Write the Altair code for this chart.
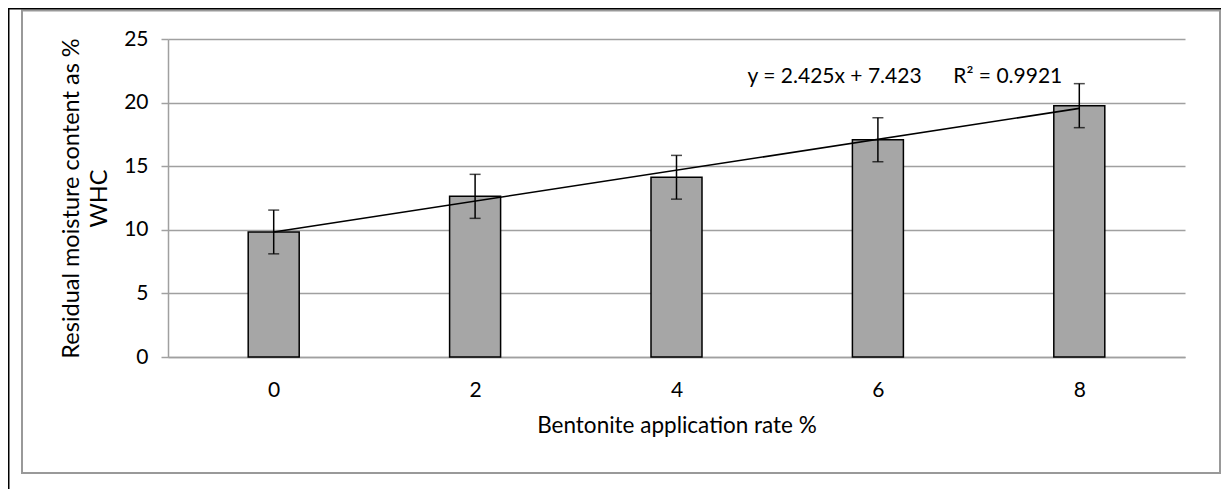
import altair as alt
import pandas as pd

# ---- data ----
rates = [0, 2, 4, 6, 8]
moisture = [9.83, 12.63, 14.13, 17.08, 19.76]
errors = [1.72, 1.73, 1.72, 1.73, 1.73]
x_ticks = [0, 2, 4, 6, 8]
y_ticks = [0, 5, 10, 15, 20, 25]
eq_labels = ["y = 2.425x + 7.423", "R² = 0.9921"]
eq_x = [5.57, 7.29]
eq_y = [22.0, 22.0]
y_title = ["Residual moisture content as %", "WHC"]
x_title = "Bentonite application rate %"

FONT = "Lato"
LFS = 21
TFS = 22
GRID = "#a0a0a0"

df = pd.DataFrame({"rate": rates, "value": moisture, "err": errors})
df["lo"] = df["value"] - df["err"]
df["hi"] = df["value"] + df["err"]
ann = pd.DataFrame({"x": eq_x, "y": eq_y, "t": eq_labels})

xscale = alt.Scale(domain=[-1, 9], nice=False, zero=False)
yscale = alt.Scale(domain=[0, 25], nice=False)

xax = alt.Axis(values=x_ticks, format="d", title=x_title, grid=False,
               ticks=False, domainColor=GRID, domainWidth=1.5,
               labelPadding=22, titlePadding=14, labelFlush=False,
               titleFontSize=TFS + 0.5)
yax = alt.Axis(values=y_ticks, format="d", title=y_title, grid=True,
               gridColor=GRID, gridWidth=1.5, domainColor=GRID,
               domainWidth=1.5, tickColor=GRID, tickWidth=1.5, tickSize=7,
               labelPadding=13, titlePadding=12, titleLineHeight=28,
               titleFontSize=TFS + 1.5)

base = alt.Chart(df)

bars = base.mark_bar(size=51, color="#a6a6a6", stroke="black",
                     strokeWidth=1.5).encode(
    x=alt.X("rate:Q", scale=xscale, axis=xax),
    y=alt.Y("value:Q", scale=yscale, axis=yax),
)

trend = base.transform_regression("rate", "value").mark_line(
    color="black", strokeWidth=1.6).encode(
    x=alt.X("rate:Q", scale=xscale),
    y=alt.Y("value:Q", scale=yscale),
)

err_rule = base.mark_rule(color="black", strokeWidth=1.5).encode(
    x=alt.X("rate:Q", scale=xscale),
    y=alt.Y("lo:Q", scale=yscale),
    y2="hi:Q",
)
cap_lo = base.mark_tick(color="black", size=11, thickness=1.5,
                        orient="horizontal").encode(
    x=alt.X("rate:Q", scale=xscale),
    y=alt.Y("lo:Q", scale=yscale),
)
cap_hi = base.mark_tick(color="black", size=11, thickness=1.5,
                        orient="horizontal").encode(
    x=alt.X("rate:Q", scale=xscale),
    y=alt.Y("hi:Q", scale=yscale),
)

text = alt.Chart(ann).mark_text(font=FONT, fontSize=LFS, color="black",
                                align="center", baseline="middle").encode(
    x=alt.X("x:Q", scale=xscale),
    y=alt.Y("y:Q", scale=yscale),
    text="t:N",
)

frame_data = alt.Data(values=[{"k": 1}])
inner_frame = alt.Chart(frame_data).mark_rect(
    filled=False, stroke="#999999", strokeWidth=2).encode(
    x=alt.value(-146), x2=alt.value(1052),
    y=alt.value(-28.5), y2=alt.value(434),
)
outer_top = alt.Chart(frame_data).mark_rule(
    color="black", strokeWidth=2).encode(
    x=alt.value(-161), x2=alt.value(1070), y=alt.value(-30.5),
)
outer_left = alt.Chart(frame_data).mark_rule(
    color="black", strokeWidth=2).encode(
    x=alt.value(-159.5), y=alt.value(-32), y2=alt.value(470),
)

chart = alt.layer(
    inner_frame, outer_top, outer_left, bars, trend, err_rule, cap_lo,
    cap_hi, text
).properties(
    width=1017, height=318,
    padding={"left": 160, "top": 31, "right": 36, "bottom": 132},
    autosize=alt.AutoSizeParams(type="none"),
    background="white",
).configure_view(stroke=None).configure_axis(
    labelFont=FONT, labelFontSize=LFS, labelColor="black",
    titleFont=FONT, titleFontSize=TFS, titleFontWeight="normal",
    titleColor="black",
)

chart.save("out.html", embed_options={"renderer": "svg", "actions": False})
